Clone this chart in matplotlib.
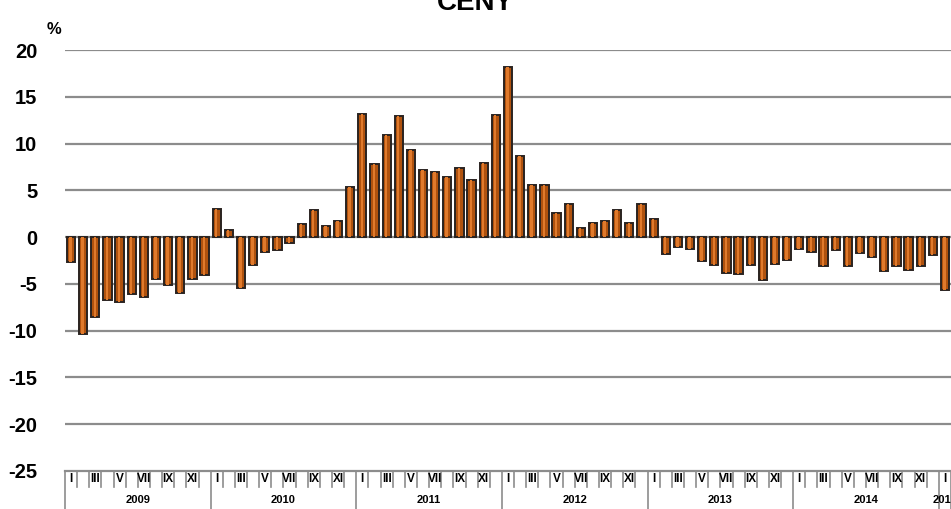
import numpy as np
import matplotlib.pyplot as plt
import matplotlib.transforms as mtransforms

plt.rcParams['font.family'] = ['Liberation Sans', 'DejaVu Sans']

# monthly values, Jan 2009 .. Jan 2015 (%)
values = [
    -2.7, -10.4, -8.5, -6.7, -6.95, -6.1, -6.35, -4.5, -5.1, -6.0, -4.5, -4.0,   # 2009
    3.0, 0.8, -5.4, -3.0, -1.6, -1.35, -0.65, 1.35, 2.85, 1.2, 1.7, 5.4,         # 2010
    13.2, 7.8, 10.9, 12.9, 9.35, 7.2, 7.0, 6.45, 7.4, 6.1, 7.95, 13.0,           # 2011
    18.2, 8.7, 5.6, 5.6, 2.6, 3.5, 0.93, 1.5, 1.7, 2.85, 1.5, 3.5,               # 2012
    1.9, -1.85, -1.1, -1.3, -2.6, -3.0, -3.8, -3.9, -3.0, -4.6, -2.9, -2.4,      # 2013
    -1.3, -1.6, -3.1, -1.4, -3.1, -1.7, -2.1, -3.6, -3.1, -3.5, -3.1, -1.9,      # 2014
    -5.6,                                                                        # 2015
]
years = ['2009', '2010', '2011', '2012', '2013', '2014', '2015']
months = ['I', 'II', 'III', 'IV', 'V', 'VI', 'VII', 'VIII', 'IX', 'X', 'XI', 'XII']
yticks = [20, 15, 10, 5, 0, -5, -10, -15, -20, -25]
title = 'CENY'

x = np.arange(len(values))

fig = plt.figure(figsize=(9.51, 5.09), dpi=100)
ax = fig.add_axes([65 / 951, 38 / 509, 1 - 65 / 951, 421 / 509])

grid_col = '#8c8c8c'
for t in yticks[:-1]:
    ax.axhline(t, color=grid_col, lw=1.6, zorder=1)

ax.bar(x, values, width=0.68, color='#b0520e', edgecolor='#2a2320', linewidth=1.4, zorder=3)
# lighter strip to mimic the cylinder shading
ax.bar(x - 0.05, values, width=0.2, color='#e07a2c', linewidth=0, zorder=4)

ax.set_xlim(-0.5, len(values) - 0.5)
ax.set_ylim(-25, 20)
ax.set_yticks(yticks)
ax.set_yticklabels([str(t) for t in yticks], fontsize=14.5, fontweight='bold')
ax.tick_params(axis='y', length=0, pad=20)
ax.set_xticks([])
for s in ['top', 'right', 'left']:
    ax.spines[s].set_visible(False)
ax.spines['bottom'].set_color(grid_col)
ax.spines['bottom'].set_linewidth(1.6)

# two-level category axis (months / years)
trans = mtransforms.blended_transform_factory(ax.transData, ax.transAxes)
px = 1 / 421
for i in range(len(values) + 1):
    m = i % 12
    depth = 40 * px if m == 0 or i == len(values) else 16 * px
    ax.plot([i - 0.5, i - 0.5], [0, -depth], color=grid_col, lw=1.2,
            transform=trans, clip_on=False)
for i in range(len(values)):
    m = i % 12
    if m % 2 == 0:
        ax.text(i, -8 * px, months[m], transform=trans, ha='center', va='center',
                fontsize=8.5, fontweight='bold', clip_on=False)
for k, yr in enumerate(years):
    n = min(12, len(values) - 12 * k)
    ax.text(12 * k + (n - 1) / 2, -29 * px, yr, transform=trans, ha='center',
            va='center', fontsize=8, fontweight='bold', clip_on=False)

fig.text(54 / 951, 1 - 30 / 509, '%', ha='center', va='center', fontsize=12, fontweight='bold')
fig.text(475 / 951, 1 - 10 / 509, title, ha='center', va='baseline', fontsize=20, fontweight='bold')

fig.savefig('out.png', dpi=100)
